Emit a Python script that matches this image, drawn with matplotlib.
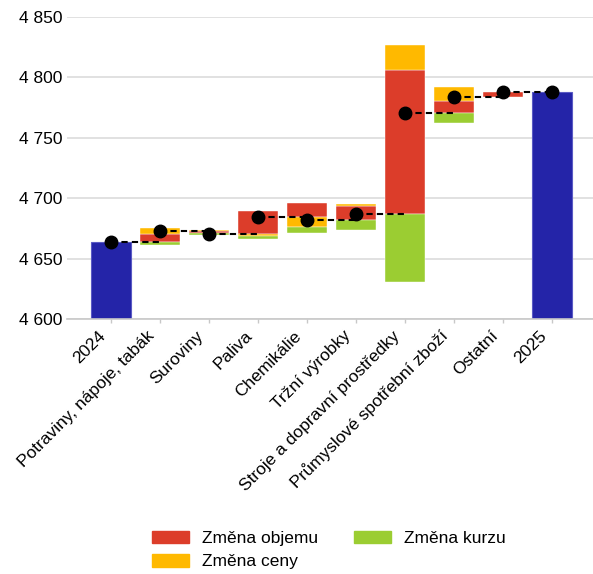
import matplotlib.pyplot as plt
import matplotlib.patches as mpatches
import matplotlib.transforms as mtransforms
import numpy as np

plt.rcParams['font.family'] = ['Liberation Sans', 'DejaVu Sans']

# vývoz: rozklad meziroční změny podle skupin zboží
kategorie = ['2024', 'Potraviny, nápoje, tabák', 'Suroviny', 'Paliva', 'Chemikálie',
             'Tržní výrobky', 'Stroje a dopravní prostředky',
             'Průmyslové spotřební zboží', 'Ostatní', '2025']
hodnota_2024 = 4664.0
zmena_objemu = [6.6, -1.8, 18.5, 11.0, 11.0, 119.5, 9.7, 3.4]
zmena_ceny = [5.0, 0.7, -1.4, -8.3, 2.2, 20.4, 11.8, 0.0]
zmena_kurzu = [-3.0, -1.0, -3.0, -5.0, -8.8, -55.7, -8.3, 0.0]
y_ticks = [4600, 4650, 4700, 4750, 4800, 4850]

c_objem = '#dc3d2a'
c_cena = '#ffb900'
c_kurz = '#9bcd32'
c_total = '#2424a8'

fig = plt.figure(figsize=(5.93, 5.74), dpi=100)
ax = fig.add_axes([0.113, 0.4443, 0.887, 0.5261])

x = np.arange(len(kategorie))
w = 0.81
y0 = y_ticks[0]

# průběžné součty
zmeny = np.array(zmena_objemu) + np.array(zmena_ceny) + np.array(zmena_kurzu)
soucty = np.concatenate([[hodnota_2024], hodnota_2024 + np.cumsum(zmeny)])
soucty = np.append(soucty, soucty[-1])

# krajní sloupce
for i in (0, len(kategorie) - 1):
    ax.bar(x[i], soucty[i] - y0, bottom=y0, width=w, color=c_total,
           edgecolor='#5a5ac4', linewidth=0.8, zorder=2)

# složky změny: kladné nahoru, záporné dolů od předchozího součtu
for j in range(len(zmena_objemu)):
    base = soucty[j]
    up, down = base, base
    for v, col in ((zmena_objemu[j], c_objem), (zmena_ceny[j], c_cena),
                   (zmena_kurzu[j], c_kurz)):
        if v == 0:
            continue
        if v > 0:
            ax.bar(x[j + 1], v, bottom=up, width=w, color=col,
                   edgecolor='white', linewidth=0.3, zorder=2)
            up += v
        else:
            ax.bar(x[j + 1], -v, bottom=down + v, width=w, color=col,
                   edgecolor='white', linewidth=0.3, zorder=2)
            down += v

# spojnice a body
for i in range(len(kategorie) - 1):
    ax.plot([x[i], x[i + 1]], [soucty[i], soucty[i]], color='black',
            linestyle='--', linewidth=1.5, dashes=(3, 2), zorder=3)
ax.plot(x, soucty, 'o', color='black', markersize=9, zorder=4)

ax.set_xlim(-0.89, 9.83)
ax.set_ylim(y_ticks[0], y_ticks[-1])
ax.set_yticks(y_ticks)
ax.set_yticklabels([f'{v:,}'.replace(',', ' ') for v in y_ticks], fontsize=12.5)
ax.yaxis.grid(True, color='#dcdcdc', linewidth=1.2, zorder=0)
ax.set_axisbelow(True)
ax.tick_params(axis='y', length=0, pad=3.6)

ax.set_xticks(x)
ax.set_xticklabels(kategorie, rotation=45, ha='right', va='baseline',
                   rotation_mode='anchor', fontsize=12.5)
ax.tick_params(axis='x', length=3, color='#c8c8c8', width=1, pad=9.8)
posun = mtransforms.ScaledTranslation(-4.7 / 100, 0, fig.dpi_scale_trans)
for t in ax.get_xticklabels():
    t.set_transform(t.get_transform() + posun)

for s in ('top', 'right', 'left'):
    ax.spines[s].set_visible(False)
ax.spines['bottom'].set_color('#c8c8c8')
ax.spines['bottom'].set_linewidth(1.2)

handles = [mpatches.Patch(color=c_objem, label='Změna objemu'),
           mpatches.Patch(color=c_cena, label='Změna ceny'),
           mpatches.Patch(color=c_kurz, label='Změna kurzu')]
fig.legend(handles=handles, loc='center', bbox_to_anchor=(329 / 593, 1 - 550 / 574),
           ncol=2, frameon=False, fontsize=12.5, handlelength=2.1,
           handleheight=0.75, handletextpad=0.75, columnspacing=2.1,
           labelspacing=0.45)

fig.savefig('out.png', dpi=100)
